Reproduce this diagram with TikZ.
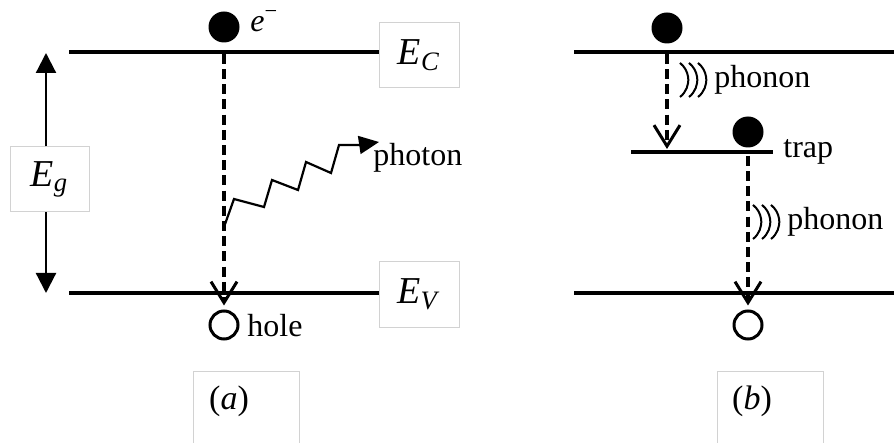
\documentclass[tikz,border=0pt]{standalone}
\usepackage{fontspec}
\setmainfont{Liberation Serif}
\usetikzlibrary{positioning,arrows.meta}
\tikzset{
  level/.style={line width=1.7pt},
  elec/.style={circle,fill=black,inner sep=0pt,minimum size=15.5pt},
  holec/.style={circle,draw=black,line width=1.5pt,inner sep=0pt,minimum size=14pt},
  lblbox/.style={draw=gray!35,line width=0.5pt,fill=white,inner sep=0pt,
    minimum width=40pt,minimum height=32.5pt,font=\fontsize{19}{22}\selectfont},
  trans/.style={dashed,dash pattern=on 5pt off 2.6pt,line width=1.7pt,
    -{Straight Barb[length=10.5pt,width=13pt,line width=1.5pt]}},
  wave/.style={line width=1pt},
  txt/.style={inner sep=0pt,font=\fontsize{16}{19}\selectfont}
}
\newcommand{\band}[1]{\textit{E}\textsubscript{\textit{#1}}}
\begin{document}
\begin{tikzpicture}[x=0.5pt,y=-0.5pt]
  \useasboundingbox[fill=white] (0,0) rectangle (894,443);

  % (a) radiative recombination.
  \draw[level] (69,52) -- (379,52);
  \draw[level] (69,293) -- (379,293);
  \node[lblbox] (ec) at (419,55.5) {\band{C}};
  \node[lblbox] (ev) at (419,294.5) {\band{V}};
  \coordinate (egt) at (46,53);
  \coordinate (egb) at (46,293);
  \node[lblbox,minimum width=39.5pt] (eg) at (49.5,179.5) {\band{g}};
  \draw[line width=1.1pt,-{Triangle[length=10pt,width=10pt]}] (eg.north -| egt) -- (egt);
  \draw[line width=1.1pt,-{Triangle[length=10pt,width=10pt]}] (eg.south -| egt) -- (egb);

  \node[elec] (ea) at (224,27) {};
  \node[txt,anchor=west] (eal) at (250,21) {\textit{e}\textsuperscript{−}};
  \node[holec] (ha) at (224,325) {};
  \node[txt,anchor=west] (hal) at (247,326) {hole};
  \draw[trans,shorten <=5.5pt,shorten >=2pt] (ea.south) -- (ha.north);

  \coordinate (pa) at (224,227);
  \draw[line width=1.1pt,-{Triangle[length=10pt,width=9pt]}] (pa) -- (234,199)
    -- (264,207) -- (272,180) -- (298,190) -- (306,162) -- (331,173)
    -- (339,145) -- (359,145) -- (379,142);
  \node[txt,anchor=west] (pal) at (373,158) {photon};

  \draw[draw=gray!35,line width=0.5pt] (193,470) |- (299,371) -- (299,470);
  \node[txt,font=\fontsize{17}{20}\selectfont] (capa) at (229,401) {(\textit{a})};

  % (b) recombination through a trap.
  \draw[level] (574,52) -- (900,52);
  \draw[level] (574,293) -- (900,293);
  \draw[level] (631,152) -- (773,152);
  \node[txt,anchor=west] (trl) at (783,152) {trap};

  \node[elec] (eb1) at (667,28) {};
  \coordinate (tb) at (667,149);
  \draw[trans,shorten <=5pt] (eb1.south) -- (tb);
  \coordinate (pb1) at (680,97);
  \foreach \k in {0,1,2}
    \draw[wave] ([xshift=\k*4.5pt]pb1) arc[start angle=-52,end angle=52,radius=10.8pt];
  \node[txt,anchor=west] (pbl1) at (714,80) {phonon};

  \node[elec] (eb2) at (748,132) {};
  \node[holec] (hb) at (748,325) {};
  \draw[trans,shorten <=4pt,shorten >=2pt] (eb2.south) -- (hb.north);
  \coordinate (pb2) at (753,239);
  \foreach \k in {0,1,2}
    \draw[wave] ([xshift=\k*4.5pt]pb2) arc[start angle=-52,end angle=52,radius=10.8pt];
  \node[txt,anchor=west] (pbl2) at (787,222) {phonon};

  \draw[draw=gray!35,line width=0.5pt] (717,470) |- (823,371) -- (823,470);
  \node[txt,font=\fontsize{17}{20}\selectfont] (capb) at (752,401) {(\textit{b})};
\end{tikzpicture}
\end{document}
